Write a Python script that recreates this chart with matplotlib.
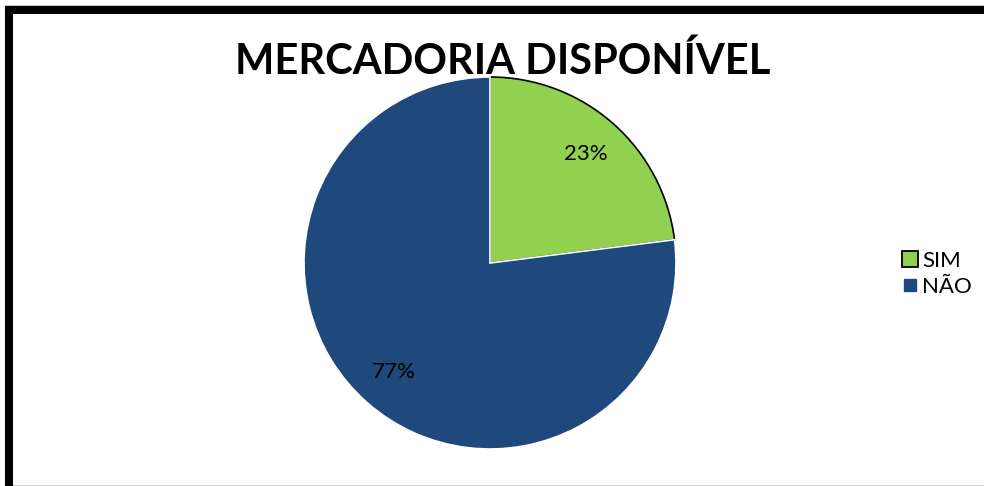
import matplotlib.pyplot as plt
from matplotlib.patches import Rectangle
from matplotlib.lines import Line2D

# Data
labels = ['SIM', 'NÃO']
values = [23, 77]
colors = ['#92D050', '#1F497D']
title = 'MERCADORIA DISPONÍVEL'

plt.rcParams['font.family'] = ['Lato', 'DejaVu Sans']

W, H = 984, 486
fig = plt.figure(figsize=(W / 100, H / 100), dpi=100)

# pie area placed in pixel terms (center ~ (490, 263), radius ~186)
cx, cy, r = 490, 263, 186
ax = fig.add_axes([(cx - r) / W, (H - cy - r) / H, 2 * r / W, 2 * r / H])

wedges, texts, autotexts = ax.pie(
    values, colors=colors, startangle=90, counterclock=False,
    autopct='%1.0f%%', pctdistance=0.78,
    wedgeprops=dict(edgecolor='white', linewidth=1.2),
    textprops=dict(fontsize=16, color='black'))
# black outline on the green slice arc
wedges[0].set_edgecolor('black')
wedges[0].set_linewidth(1.2)
ax.set_xlim(-1, 1)
ax.set_ylim(-1, 1)
ax.set_aspect('equal')
ax.axis('off')

fig.text(503 / W, 1 - 61 / H, title, ha='center', va='center',
         fontsize=30, fontweight='bold')

# legend
handles = [
    Line2D([], [], marker='s', linestyle='none', markersize=11,
           markerfacecolor=colors[0], markeredgecolor='black', markeredgewidth=1.3),
    Line2D([], [], marker='s', linestyle='none', markersize=9,
           markerfacecolor=colors[1], markeredgecolor=colors[1]),
]
fig.legend(handles, labels, loc='center left', bbox_to_anchor=(893 / W, 1 - 274 / H),
           frameon=False, fontsize=16, handlelength=0.7, handletextpad=0.2,
           labelspacing=0.25, borderaxespad=0)

# thin grey outer edge and thick black frame, cut off at right and bottom
fig.patches.append(Rectangle((4.5 / W, 1 / H), 1.1, 1 - 6 / H,
                             transform=fig.transFigure, fill=False,
                             edgecolor='#d0d0d0', linewidth=0.8, clip_on=False))
fig.patches.append(Rectangle((9 / W, -0.1), 1.1, 1 - 9.5 / H + 0.1,
                             transform=fig.transFigure, fill=False,
                             edgecolor='black', linewidth=5.8, clip_on=False))

fig.savefig('out.png', dpi=100)
